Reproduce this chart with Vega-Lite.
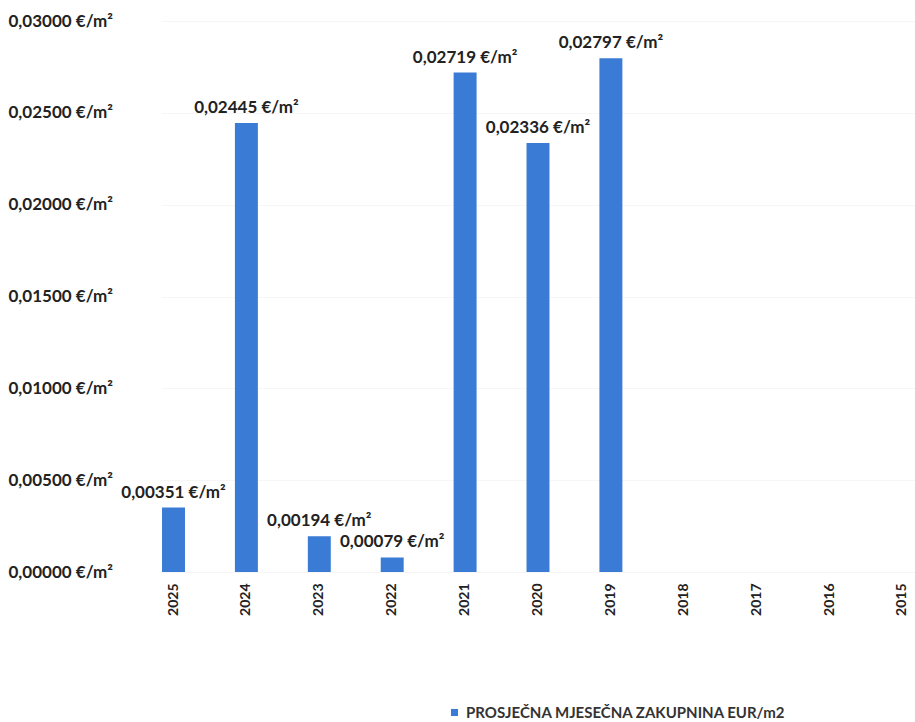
{
  "$schema": "https://vega.github.io/schema/vega-lite/v6.json",
  "width": 754,
  "height": 551,
  "autosize": {"type": "none"},
  "padding": {"left": 161, "top": 21, "right": 0, "bottom": 150},
  "background": "white",
  "data": {
    "values": [
      {"year": "2025", "value": 0.00351, "series": "PROSJEČNA MJESEČNA ZAKUPNINA EUR/m2"},
      {"year": "2024", "value": 0.02445, "series": "PROSJEČNA MJESEČNA ZAKUPNINA EUR/m2"},
      {"year": "2023", "value": 0.00194, "series": "PROSJEČNA MJESEČNA ZAKUPNINA EUR/m2"},
      {"year": "2022", "value": 0.00079, "series": "PROSJEČNA MJESEČNA ZAKUPNINA EUR/m2"},
      {"year": "2021", "value": 0.02719, "series": "PROSJEČNA MJESEČNA ZAKUPNINA EUR/m2"},
      {"year": "2020", "value": 0.02336, "series": "PROSJEČNA MJESEČNA ZAKUPNINA EUR/m2"},
      {"year": "2019", "value": 0.02797, "series": "PROSJEČNA MJESEČNA ZAKUPNINA EUR/m2"}
    ]
  },
  "encoding": {
    "x": {
      "field": "year",
      "type": "nominal",
      "sort": null,
      "scale": {
        "domain": ["2025", "2024", "2023", "2022", "2021", "2020", "2019", "2018", "2017", "2016", "2015"],
        "paddingInner": 0.685,
        "paddingOuter": 0.014
      },
      "axis": {
        "title": null,
        "labelAngle": -90,
        "labelAlign": "right",
        "labelBaseline": "middle",
        "labelFont": "Lato",
        "labelFontWeight": "bold",
        "labelFontSize": 14,
        "labelColor": "#222222",
        "labelPadding": 11,
        "ticks": false,
        "domain": false,
        "grid": false
      }
    },
    "y": {
      "field": "value",
      "type": "quantitative",
      "scale": {"domain": [0, 0.03], "nice": false},
      "axis": {
        "title": null,
        "values": [0, 0.005, 0.01, 0.015, 0.02, 0.025, 0.03],
        "labelExpr": "replace(format(datum.value, '.5f'), '.', ',') + ' €/m²'",
        "labelAlign": "left",
        "labelPadding": 153,
        "labelFont": "Lato",
        "labelFontWeight": "bold",
        "labelFontSize": 17,
        "labelColor": "#222222",
        "ticks": false,
        "domain": false,
        "grid": true,
        "gridColor": "#f6f6f6",
        "gridWidth": 1
      }
    }
  },
  "layer": [
    {
      "mark": {"type": "bar", "color": "#3a7bd5"},
      "encoding": {
        "color": {
          "field": "series",
          "type": "nominal",
          "scale": {"range": ["#3a7bd5"]},
          "legend": {
            "title": null,
            "orient": "none",
            "legendX": 286,
            "legendY": 684,
            "symbolType": "square",
            "symbolSize": 50,
            "labelFont": "Lato",
            "labelFontWeight": "bold",
            "labelFontSize": 15,
            "labelColor": "#333333",
            "labelLimit": 500
          }
        }
      }
    },
    {
      "transform": [
        {"calculate": "replace(format(datum.value, '.5f'), '.', ',') + ' €/m²'", "as": "label"}
      ],
      "mark": {
        "type": "text",
        "baseline": "bottom",
        "dy": -6,
        "font": "Lato",
        "fontWeight": "bold",
        "fontSize": 17,
        "color": "#222222"
      },
      "encoding": {"text": {"field": "label"}}
    }
  ],
  "config": {"view": {"stroke": null}}
}
